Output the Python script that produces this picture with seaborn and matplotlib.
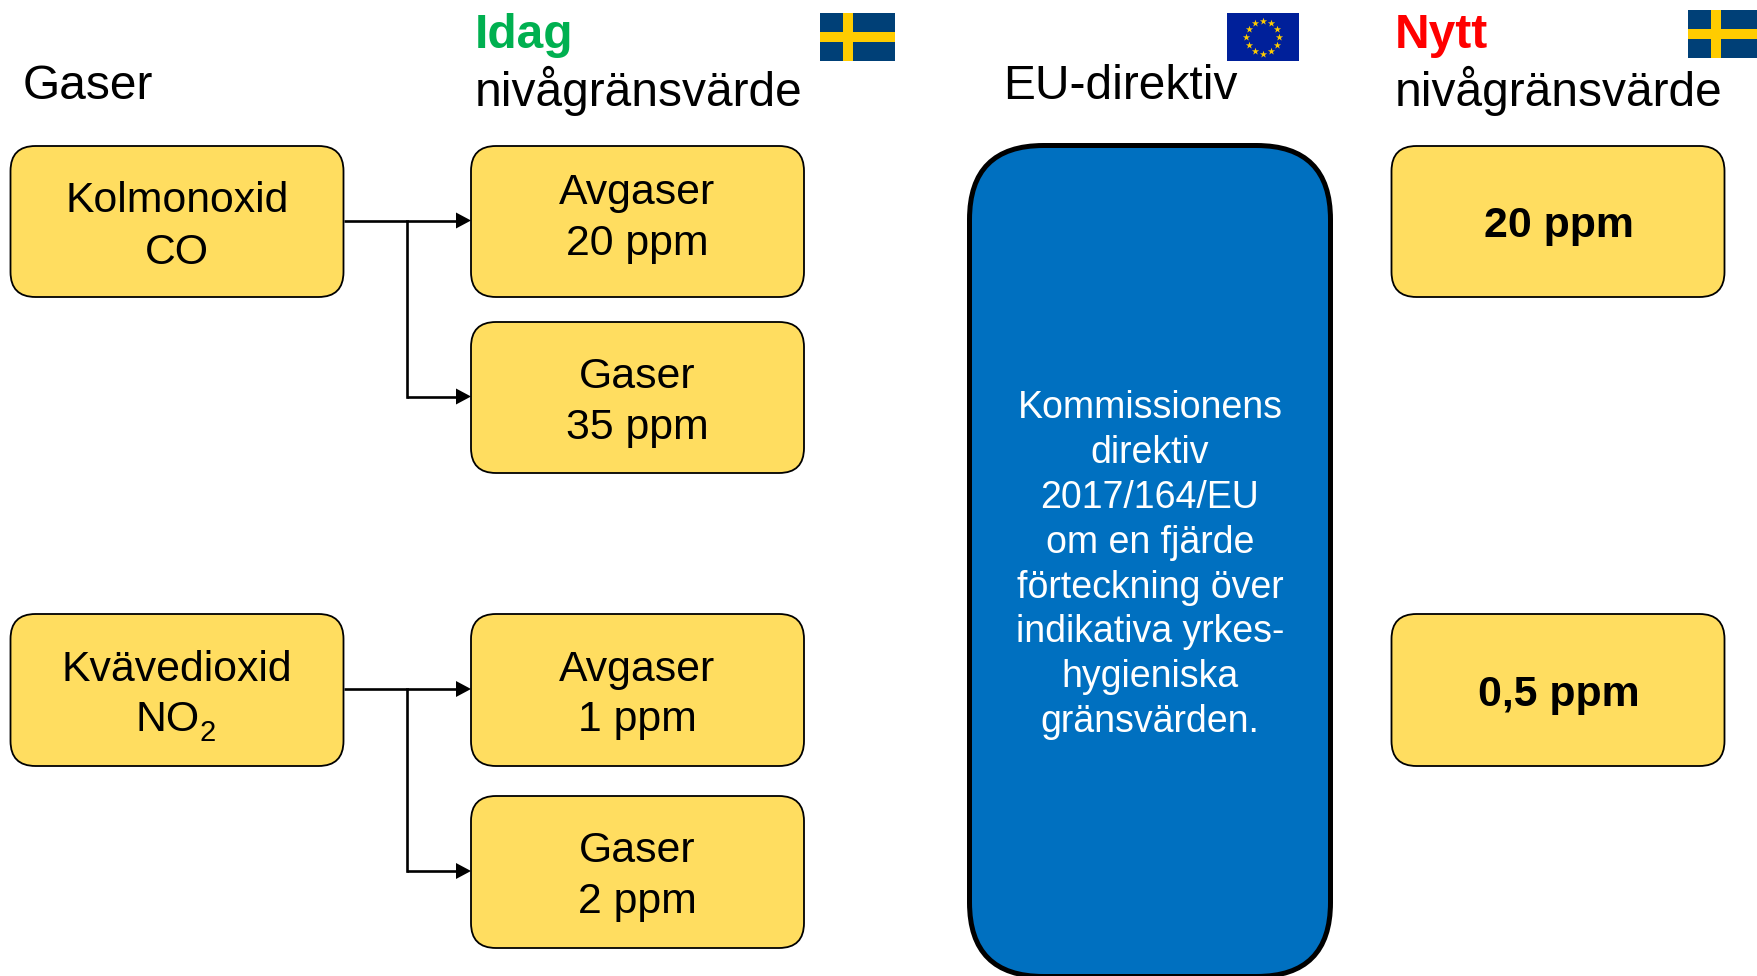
import numpy as np
import seaborn as sns
import matplotlib.pyplot as plt
from matplotlib.patches import FancyBboxPatch, Rectangle

# Text content
gases = ['Kolmonoxid', 'Kvävedioxid']
formulas = ['CO', 'NO']
today_limits = ['Avgaser\n20 ppm', 'Gaser\n35 ppm', 'Avgaser\n1 ppm', 'Gaser\n2 ppm']
new_limits = ['20 ppm', '0,5 ppm']
directive = ['Kommissionens', 'direktiv', '2017/164/EU', 'om en fjärde',
             'förteckning över', 'indikativa yrkes-', 'hygieniska', 'gränsvärden.']

# Box rows in pixels (top, bottom)
gas_rows = [(146, 297), (614, 766)]
today_rows = [(146, 297), (322, 473), (614, 766), (796, 948)]
new_rows = [(146, 297), (614, 766)]

YELLOW = '#FFDD60'
BLUE = '#0070C0'
FONT = 'Liberation Sans'

sns.set_theme(style='white')
plt.rcParams['font.family'] = [FONT, 'DejaVu Sans']

fig = plt.figure(figsize=(17.58, 9.76), dpi=100)
ax = fig.add_axes([0, 0, 1, 1])


def box(x0, x1, y0, y1, color=YELLOW, radius=25, lw=1.3):
    p = FancyBboxPatch((x0 + radius, y0 + radius), x1 - x0 - 2 * radius, y1 - y0 - 2 * radius,
                       boxstyle='round,pad=%d,rounding_size=%d' % (radius, radius),
                       fc=color, ec='black', lw=lw, zorder=2)
    ax.add_patch(p)


def label(x, y, s, size=30.8, **kw):
    kw.setdefault('ha', 'center')
    ax.text(x, y, s, fontsize=size, va='baseline', color=kw.pop('color', 'black'), zorder=3, **kw)


def sweden(x0, x1, y0, y1, vx, hy):
    ax.add_patch(Rectangle((x0, y0), x1 - x0, y1 - y0, fc='#004077', ec='none'))
    ax.add_patch(Rectangle((vx, y0), 10, y1 - y0, fc='#FFCC00', ec='none'))
    ax.add_patch(Rectangle((x0, hy), x1 - x0, 10, fc='#FFCC00', ec='none'))


def arrow(x0, x1, y):
    ax.plot([x0, x1 - 14], [y, y], color='black', lw=1.9, solid_capstyle='butt', zorder=1)
    ax.fill([x1 - 15, x1, x1 - 15], [y - 8, y, y + 8], color='black', lw=0, zorder=1)


# Left column
for i, (name, formula, rows) in enumerate(zip(gases, formulas, gas_rows)):
    box(10.5, 343.5, rows[0], rows[1])
    mid = (rows[0] + rows[1]) / 2
    label(177, mid - 9, name)
    if formula == 'NO':
        label(199.5, mid + 41, formula, ha='right')
        label(200, mid + 51, '2', size=21, ha='left')
    else:
        label(177, mid + 42, formula)

# Today's limits
for i, (name, rows) in enumerate(zip(today_limits, today_rows)):
    box(471, 804, rows[0], rows[1])
    mid = (rows[0] + rows[1]) / 2
    # the first box has its text set a little higher than the others
    shift = -8 if i == 0 else 0
    first, second = name.split('\n')
    label(637.5, mid - 9.5 + shift, first)
    label(637.5, mid + 41 + shift, second)

# New limits
for i, (name, rows) in enumerate(zip(new_limits, new_rows)):
    box(1391.5, 1724.5, rows[0], rows[1])
    label(1558.5, (rows[0] + rows[1]) / 2 + 15 + i, name, fontweight='bold')

# Connectors
for i, rows in enumerate(gas_rows):
    y = (rows[0] + rows[1]) / 2 - 1
    lower = today_rows[2 * i + 1]
    low = (lower[0] + lower[1]) / 2 - 1
    ax.plot([344, 407], [y, y], color='black', lw=1.9, solid_capstyle='butt', zorder=1)
    ax.plot([407, 407], [y, low], color='black', lw=1.9, solid_capstyle='projecting', zorder=1)
    arrow(407, 471, y)
    arrow(407, 471, low)

# EU directive box
box(969.5, 1330.5, 145.5, 976.5, color=BLUE, radius=74, lw=3.6)
for i, line in enumerate(directive):
    label(1150, 418 + i * 44.9, line, size=27, color='white')

# Headers
label(23, 99, 'Gaser', size=34.5, ha='left')
label(475, 48, 'Idag', size=34.5, ha='left', color='#00B050', fontweight='bold')
label(475, 106, 'nivågränsvärde', size=34.5, ha='left')
label(1003, 99, 'EU-direktiv', size=34.5, ha='left')
label(1395, 48, 'Nytt', size=34.5, ha='left', color='#FF0000', fontweight='bold')
label(1395, 106, 'nivågränsvärde', size=34.5, ha='left')

# Flags
sweden(820, 895, 13, 61, 843, 32)
sweden(1688, 1758, 10, 58, 1711, 29)
ax.add_patch(Rectangle((1227, 13), 72, 48, fc='#00209A', ec='none', zorder=1))
angles = np.arange(12) * np.pi / 6
sns.scatterplot(x=1263 + 16.5 * np.cos(angles), y=37 + 16.5 * np.sin(angles), marker='*', s=30,
                color='#FFCC00', linewidth=0, ax=ax, zorder=2, legend=False)

ax.set_xlim(0, 1758)
ax.set_ylim(976, 0)
ax.axis('off')

fig.savefig('out.png', dpi=100, facecolor='white')
plt.close(fig)
